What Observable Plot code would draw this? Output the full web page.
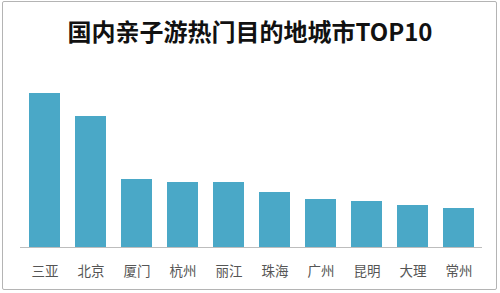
<!DOCTYPE html>
<html>
<head>
<meta charset="utf-8">
<script src="https://cdn.jsdelivr.net/npm/d3@7"></script>
<script src="https://cdn.jsdelivr.net/npm/@observablehq/plot@0.6"></script>
<style>
  html, body { margin: 0; padding: 0; background: #fff; }
  #wrap { position: relative; width: 500px; height: 293px; overflow: hidden; font-family: "Noto Sans CJK SC", sans-serif; }
  #frame { position: absolute; left: 2px; top: 1px; width: 493px; height: 287px; border: 1.5px solid #b4b4b4; border-radius: 2px; pointer-events: none; }
  #title { position: absolute; left: 0; top: 0; width: 500px; height: 60px; line-height: 62px; text-align: center; font-size: 24px; font-weight: bold; color: #111; }
  #chart { position: absolute; left: 0; top: 60px; }
</style>
</head>
<body>
<div id="wrap">
  <div id="title">国内亲子游热门目的地城市TOP10</div>
  <div id="chart"></div>
  <div id="frame"></div>
</div>
<script>
const cities = ["三亚", "北京", "厦门", "杭州", "丽江", "珠海", "广州", "昆明", "大理", "常州"];
const values = [154, 131, 68, 65, 65, 55, 48, 46, 42, 39];

const data = cities.map((c, i) => ({city: c, value: values[i]}));

const chart = Plot.plot({
  width: 500,
  height: 233,
  marginLeft: 20,
  marginRight: 18,
  marginTop: 33,
  marginBottom: 46,
  style: {fontFamily: '"Noto Sans CJK SC", sans-serif', background: "transparent"},
  x: {domain: cities, paddingInner: 0.33, paddingOuter: 0.165, label: null, tickSize: 0, tickPadding: 19},
  y: {domain: [0, d3.max(values)], axis: null},
  marks: [
    Plot.barY(data, {x: "city", y: "value", fill: "#4aa8c7"}),
    Plot.ruleY([0], {stroke: "#bdbdbd", strokeWidth: 1}),
    Plot.axisX({tickSize: 0, tickPadding: 19, fontSize: 13.5, fill: "#555", label: null})
  ]
});
document.getElementById("chart").appendChild(chart);
</script>
</body>
</html>
